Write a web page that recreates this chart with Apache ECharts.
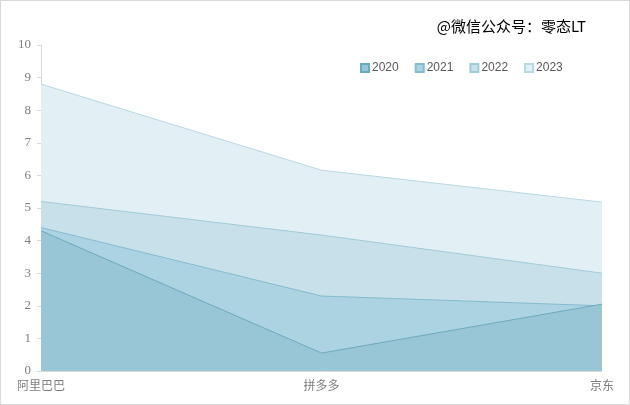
<!DOCTYPE html>
<html>
<head>
<meta http-equiv="Content-Type" content="text/html; charset=utf-8">
<title>面积图</title>
<script src="https://cdn.jsdelivr.net/npm/echarts@6/dist/echarts.min.js"></script>
<style>
html, body { margin: 0; padding: 0; background: #fff; }
#main { width: 630px; height: 405px; box-sizing: border-box; border: 1px solid #d9d9d9; }
</style>
</head>
<body>
<div id="main"></div>
<script type="text/javascript">
	var categories = ['阿里巴巴', '拼多多', '京东'];
	var years = ['2020', '2021', '2022', '2023'];
	var data2020 = [4.3, 0.55, 2.05];
	var data2021 = [4.4, 2.3, 2.0];
	var data2022 = [5.2, 4.17, 3.0];
	var data2023 = [8.8, 6.16, 5.18];
	var yTicks = [0, 10, 1];

	var fills = ['#98c6d6', '#acd3e1', '#c7e0e9', '#e2eff4'];
	var strokes = ['#6fa9bd', '#85bccf', '#a2cbd9', '#b9d8e3'];
	var allData = [data2020, data2021, data2022, data2023];

	var series = [];
	for (var i = 0; i < years.length; i++) {
		series.push({
			name : years[i],
			type : 'line',
			data : allData[i],
			symbol : 'none',
			z : 10 - i,
			lineStyle : { color : strokes[i], width : 1 },
			itemStyle : { color : fills[i], borderColor : strokes[i], borderWidth : 1 },
			areaStyle : { color : fills[i], opacity : 1 }
		});
	}

	var chart = echarts.init(document.getElementById('main'));
	chart.setOption({
		animation : false,
		title : {
			text : '@微信公众号：零态LT',
			right : 38,
			top : 13,
			textStyle : { fontFamily : 'Noto Sans CJK SC', fontSize : 15, fontWeight : 'normal', color : '#000' }
		},
		legend : {
			data : years,
			left : 354,
			top : 56,
			itemWidth : 8,
			itemHeight : 8,
			itemGap : 16,
			icon : 'rect',
			textStyle : { color : '#595959', fontSize : 12, fontFamily : 'Liberation Sans', padding : [0, 0, 0, -2] }
		},
		grid : {
			left : 40,
			right : 27,
			top : 44,
			bottom : 33
		},
		xAxis : {
			type : 'category',
			boundaryGap : false,
			data : categories,
			axisLine : { lineStyle : { color : '#d9d9d9' } },
			axisTick : { show : false },
			axisLabel : { color : '#7f7f7f', fontSize : 12, fontFamily : 'Noto Sans CJK SC', margin : 8 }
		},
		yAxis : {
			type : 'value',
			min : yTicks[0],
			max : yTicks[1],
			interval : yTicks[2],
			axisLine : { show : true, lineStyle : { color : '#d9d9d9' } },
			axisTick : { show : true, length : 4, lineStyle : { color : '#d9d9d9' } },
			splitLine : { show : false },
			axisLabel : { color : '#7f7f7f', fontSize : 13, fontFamily : 'Liberation Serif', margin : 10 }
		},
		series : series
	});
</script>
</body>
</html>
